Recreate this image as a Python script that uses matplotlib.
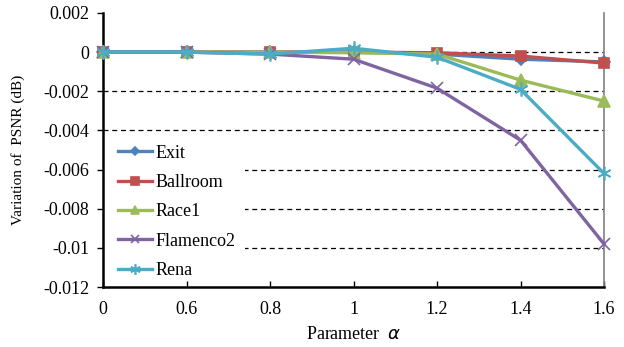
import matplotlib
matplotlib.use("Agg")
import matplotlib.pyplot as plt
from matplotlib.patches import Rectangle
import numpy as np

categories = ["0", "0.6", "0.8", "1", "1.2", "1.4", "1.6"]
exit_v = [0.0, 0.0, 0.0, 0.0, -0.0001, -0.00036, -0.0005]
ballroom = [0.0, 0.0, 0.0, 0.0, -0.00003, -0.0002, -0.00056]
race1 = [0.0, 0.0, 0.0, -0.00003, -0.0001, -0.00143, -0.0025]
flamenco2 = [0.0, 0.0, -0.0001, -0.00036, -0.00184, -0.0045, -0.0098]
rena = [0.0, 0.0, -0.0001, 0.0002, -0.00026, -0.0019, -0.0062]
yticks = [0.002, 0, -0.002, -0.004, -0.006, -0.008, -0.01, -0.012]
ylabels = ["0.002", "0", "-0.002", "-0.004", "-0.006", "-0.008", "-0.01", "-0.012"]

plt.rcParams['font.family'] = ['Liberation Serif', 'DejaVu Serif']
fig = plt.figure(figsize=(6.24, 3.47), dpi=100)
ax = fig.add_axes([103/624, 1-287/347, (604-103)/624, (287-13)/347])

x = np.arange(len(categories))
series = [
    ("Exit", exit_v, "#4F81BD", "D", 6),
    ("Ballroom", ballroom, "#C0504D", "s", 7.5),
    ("Race1", race1, "#9BBB59", "^", 8.5),
    ("Flamenco2", flamenco2, "#8064A2", "x", 8),
    ("Rena", rena, "#4BACC6", (6, 2, 0), 10),
]
for name, vals, col, mk, ms in series:
    ax.plot(x, vals, color=col, lw=2.4, marker=mk, markersize=ms,
            markerfacecolor=col, markeredgecolor=col, markeredgewidth=1.2,
            label=name, zorder=3, clip_on=False)

ax.set_xlim(0, len(categories)-1)
ax.set_ylim(-0.012, 0.002)
ax.set_xticks(x)
ax.set_xticklabels(categories, fontsize=13)
ax.set_yticks(yticks)
ax.set_yticklabels(ylabels, fontsize=13)
for yv in yticks[1:-1]:
    ax.axhline(yv, color="black", lw=0.9, ls=(0, (4, 3)), zorder=1)

# white legend area hiding the gridlines
ax.add_patch(Rectangle((0, 0), (245-103)/501, (287-133)/274,
                       transform=ax.transAxes, facecolor="white",
                       edgecolor="none", zorder=1.5))

ax.tick_params(axis='x', direction='in', length=4, width=1, pad=10)
ax.tick_params(axis='y', direction='out', length=4, width=1, pad=6)
ax.spines['top'].set_visible(False)
ax.spines['left'].set_linewidth(1.8)
ax.spines['bottom'].set_linewidth(1.8)
ax.spines['right'].set_color('#808080')
ax.spines['right'].set_linewidth(1.2)

ax.set_ylabel("Variation of  PSNR (dB)", fontsize=11, labelpad=13)
ax.set_xlabel("Parameter  $\\alpha$", fontsize=13, labelpad=6)

leg = ax.legend(loc="lower left", bbox_to_anchor=(0.014, 0.0), fontsize=13,
                frameon=False, handlelength=1.9, labelspacing=0.68,
                borderpad=0.45, handletextpad=0.15, borderaxespad=0.0,
                markerscale=0.75)
leg.set_zorder(2)

fig.savefig("out.png", dpi=100)
